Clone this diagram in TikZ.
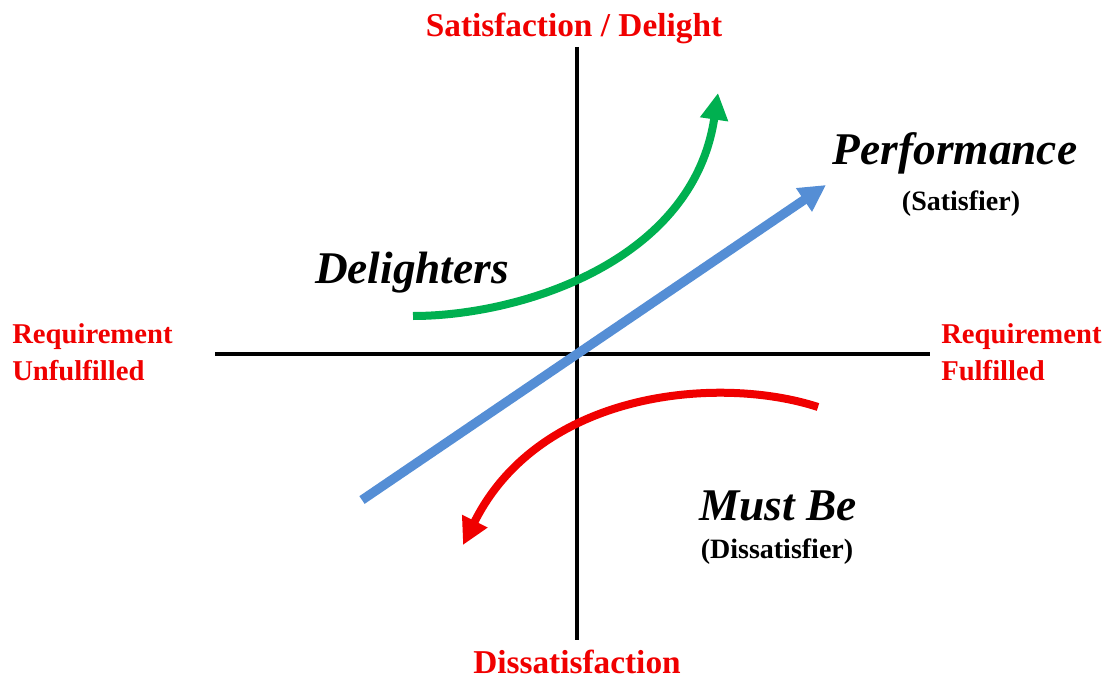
\documentclass[tikz,border=0pt]{standalone}
\usepackage{fontspec}
\setmainfont{Liberation Serif}
\usetikzlibrary{arrows.meta}
\definecolor{kanored}{RGB}{240,0,0}
\definecolor{kanogreen}{RGB}{0,176,80}
\definecolor{kanoblue}{RGB}{85,142,213}

\begin{document}
\begin{tikzpicture}[
    x=0.75pt, y=-0.75pt,
    axisline/.style={line width=3pt},
    axislabel/.style={text=kanored, font=\fontsize{25}{30}\selectfont\bfseries, inner sep=0pt},
    sidelabel/.style={text=kanored, font=\fontsize{21.5}{28}\selectfont\bfseries, align=left, inner sep=0pt},
    category/.style={font=\fontsize{34}{40}\selectfont\bfseries\itshape, inner sep=0pt},
    kind/.style={font=\fontsize{21}{25}\selectfont\bfseries, inner sep=0pt},
    curve/.style={line width=6pt, -{Triangle[length=20pt, width=20pt]}}
  ]
    \useasboundingbox (0,0) rectangle (1112,681);

    % axes
    \coordinate (top) at (577,47);
    \coordinate (bottom) at (577,640);
    \coordinate (west) at (215,354);
    \coordinate (east) at (930,354);
    \draw[axisline] (top) -- (bottom);
    \draw[axisline] (west) -- (east);

    \node[axislabel, anchor=base] (satisfaction) at (574,37) {Satisfaction / Delight};
    \node[axislabel, anchor=base] (dissatisfaction) at (577,673) {Dissatisfaction};
    \node[sidelabel, anchor=west] (unfulfilled) at (12,352) {Requirement\\Unfulfilled};
    \node[sidelabel, anchor=west] (fulfilled) at (941,352) {Requirement\\Fulfilled};

    % categories
    \node[category, anchor=base] (performance) at (955,165) {Performance};
    \node[kind, anchor=base] (satisfier) at (961,210) {(Satisfier)};
    \node[category, anchor=base] (delighters) at (412,283) {Delighters};
    \node[category, anchor=base] (mustbe) at (778,520) {Must Be};
    \node[kind, anchor=base] (dissatisfier) at (777,558) {(Dissatisfier)};

    % curves
    \coordinate (perfstart) at (362,500);
    \coordinate (perfend) at (826,185);
    \coordinate (delistart) at (413,316);
    \coordinate (deliend) at (718,93);
    \coordinate (muststart) at (818,407);
    \coordinate (mustend) at (463,545);

    \draw[curve, kanogreen] (delistart) .. controls (520,316) and (693,262) .. (deliend);
    \draw[curve, kanored] (muststart) .. controls (720,375) and (540,390) .. (mustend);
    \draw[curve, kanoblue, line width=7pt] (perfstart) -- (perfend);
  \end{tikzpicture}
\end{document}
